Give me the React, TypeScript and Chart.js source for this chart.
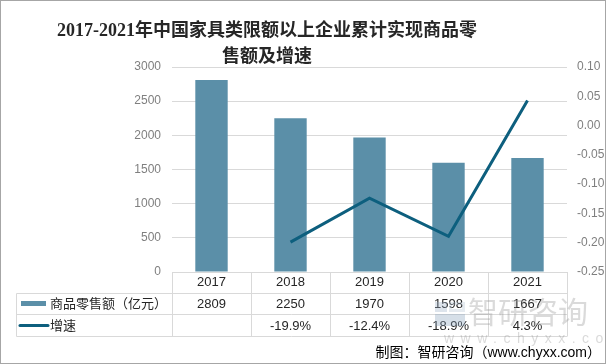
import React, { useEffect, useRef } from 'react';
import { Chart, registerables } from 'chart.js';

Chart.register(...registerables);

const categories = ['2017', '2018', '2019', '2020', '2021'];
const salesValues = [2809, 2250, 1970, 1598, 1667];
const growthValues: (number | null)[] = [null, -0.199, -0.124, -0.189, 0.043];
const salesLabel = '商品零售额（亿元）';
const growthLabel = '增速';
const titleLines = ['2017-2021年中国家具类限额以上企业累计实现商品零', '售额及增速'];
const footerText = '制图：智研咨询（www.chyxx.com）';

const BAR_COLOR = '#5b8fa8';
const LINE_COLOR = '#0d5f7e';
const GRID = '#d9d9d9';
const FONT = '"Liberation Sans", "Noto Sans CJK SC", sans-serif';

const tablePlugin = {
  id: 'dataTable',
  afterDraw(chart: any) {
    const ctx = chart.ctx;
    const area = chart.chartArea;
    const xs = chart.scales.x;
    const step = xs.getPixelForValue(1) - xs.getPixelForValue(0);
    const top = Math.round(area.bottom) + 0.5;
    const r1 = top + 21;
    const r2 = top + 42;
    const r3 = top + 64;
    const tableLeft = 16.5;
    ctx.save();
    ctx.strokeStyle = GRID;
    ctx.lineWidth = 1;
    ctx.beginPath();
    [r1, r2, r3].forEach((y) => {
      ctx.moveTo(tableLeft, y);
      ctx.lineTo(area.right, y);
    });
    ctx.moveTo(tableLeft, r1);
    ctx.lineTo(tableLeft, r3);
    ctx.moveTo(Math.round(area.left) + 0.5, top);
    ctx.lineTo(Math.round(area.left) + 0.5, r3);
    categories.forEach((_, i) => {
      const bx = Math.round(xs.getPixelForValue(i) + step / 2) + 0.5;
      ctx.moveTo(bx, top);
      ctx.lineTo(bx, r3);
    });
    ctx.stroke();

    // legend keys
    ctx.fillStyle = BAR_COLOR;
    ctx.fillRect(21, (r1 + r2) / 2 - 3, 25, 5);
    ctx.strokeStyle = LINE_COLOR;
    ctx.lineWidth = 3;
    ctx.lineCap = 'round';
    ctx.beginPath();
    ctx.moveTo(20, (r2 + r3) / 2);
    ctx.lineTo(48, (r2 + r3) / 2);
    ctx.stroke();

    ctx.fillStyle = '#262626';
    ctx.font = `13px ${FONT}`;
    ctx.textBaseline = 'middle';
    ctx.textAlign = 'left';
    ctx.fillText(salesLabel, 50, (r1 + r2) / 2);
    ctx.fillText(growthLabel, 50, (r2 + r3) / 2 + 1);

    ctx.textAlign = 'center';
    categories.forEach((_, i) => {
      const cx = xs.getPixelForValue(i);
      ctx.fillText(String(salesValues[i]), cx, (r1 + r2) / 2);
      const g = growthValues[i];
      if (g !== null) ctx.fillText((g * 100).toFixed(1) + '%', cx, (r2 + r3) / 2 + 1);
    });
    ctx.restore();
  },
};

export default function App() {
  const ref = useRef<HTMLCanvasElement>(null);
  useEffect(() => {
    document.body.style.margin = '0';
    const chart = new Chart(ref.current as HTMLCanvasElement, {
      type: 'bar',
      data: {
        labels: categories,
        datasets: [
          {
            type: 'line',
            label: growthLabel,
            data: growthValues as any,
            yAxisID: 'y1',
            borderColor: LINE_COLOR,
            backgroundColor: LINE_COLOR,
            borderWidth: 3,
            pointRadius: 0,
            tension: 0,
            order: 0,
          } as any,
          {
            type: 'bar',
            label: salesLabel,
            data: salesValues,
            yAxisID: 'y',
            backgroundColor: BAR_COLOR,
            barPercentage: 0.41,
            categoryPercentage: 1,
            order: 1,
          } as any,
        ],
      },
      options: {
        animation: false,
        responsive: false,
        layout: { padding: { top: 67, left: 0, right: 0, bottom: 0 } },
        plugins: { legend: { display: false }, tooltip: { enabled: false }, title: { display: false } },
        scales: {
          x: {
            grid: { display: false, drawTicks: false },
            border: { display: true, color: GRID },
            ticks: { color: '#262626', font: { size: 13, family: FONT }, padding: 3, maxRotation: 0 },
            afterFit: (s: any) => { s.height = 92; },
          },
          y: {
            position: 'left',
            min: 0,
            max: 3000,
            ticks: {
              stepSize: 500,
              color: '#7f7f7f',
              font: { size: 12, family: FONT },
              padding: 11,
              callback: (v: any) => String(Math.round(Number(v))),
            },
            grid: { color: GRID, drawTicks: false },
            border: { display: false },
            afterFit: (s: any) => { s.width = 172; },
          },
          y1: {
            position: 'right',
            min: -0.25,
            max: 0.1,
            ticks: {
              stepSize: 0.05,
              color: '#7f7f7f',
              font: { size: 12, family: FONT },
              padding: 10,
              callback: (v: any) => (Math.abs(v) < 1e-9 ? 0 : Number(v)).toFixed(2),
            },
            grid: { display: false, drawTicks: false },
            border: { display: false },
            afterFit: (s: any) => { s.width = 39; },
          },
        },
      } as any,
      plugins: [tablePlugin],
    });
    return () => chart.destroy();
  }, []);

  return (
    <div style={{ position: 'fixed', left: 0, top: 0, width: 606, height: 364, background: '#fff', overflow: 'hidden' }}>
      <canvas ref={ref} width={606} height={364} style={{ position: 'absolute', left: 0, top: 0 }} />
      <div
        style={{
          position: 'absolute', left: 0, top: 17, width: 534, textAlign: 'center',
          fontFamily: '"Liberation Serif", "Noto Sans CJK SC", serif', fontWeight: 'bold',
          fontSize: 18, lineHeight: '26px', color: '#262626', whiteSpace: 'nowrap',
        }}
      >
        {titleLines[0]}<br />{titleLines[1]}
      </div>
      <div style={{ position: 'absolute', left: 435, top: 302, width: 30, height: 24, opacity: 0.35 }}>
        <div style={{ position: 'absolute', left: 0, top: 0, width: 12, height: 10, background: '#9fb3c8' }} />
        <div style={{ position: 'absolute', left: 0, top: 12, width: 30, height: 12, background: '#8aa4be' }} />
        <div style={{ position: 'absolute', left: 14, top: 0, width: 16, height: 10, border: '3px solid #b8c6d4', boxSizing: 'border-box' }} />
      </div>
      <div style={{ position: 'absolute', left: 468, top: 292, fontFamily: '"Noto Sans CJK SC", sans-serif', fontSize: 30, lineHeight: '36px', color: 'rgba(150,150,150,0.35)' }}>
        智研咨询
      </div>
      <div style={{ position: 'absolute', left: 444, top: 330, fontFamily: FONT, fontSize: 14, lineHeight: '16px', letterSpacing: 6.5, color: 'rgba(150,150,150,0.35)' }}>
        www.chyxx.com
      </div>
      <div style={{ position: 'absolute', right: 5, top: 342, fontFamily: FONT, fontSize: 14, lineHeight: '20px', color: '#000', whiteSpace: 'nowrap' }}>
        {footerText}
      </div>
      <div style={{ position: 'absolute', left: 0, top: 0, width: 606, height: 364, border: '1px solid #a6a6a6', boxSizing: 'border-box', pointerEvents: 'none' }} />
    </div>
  );
}
